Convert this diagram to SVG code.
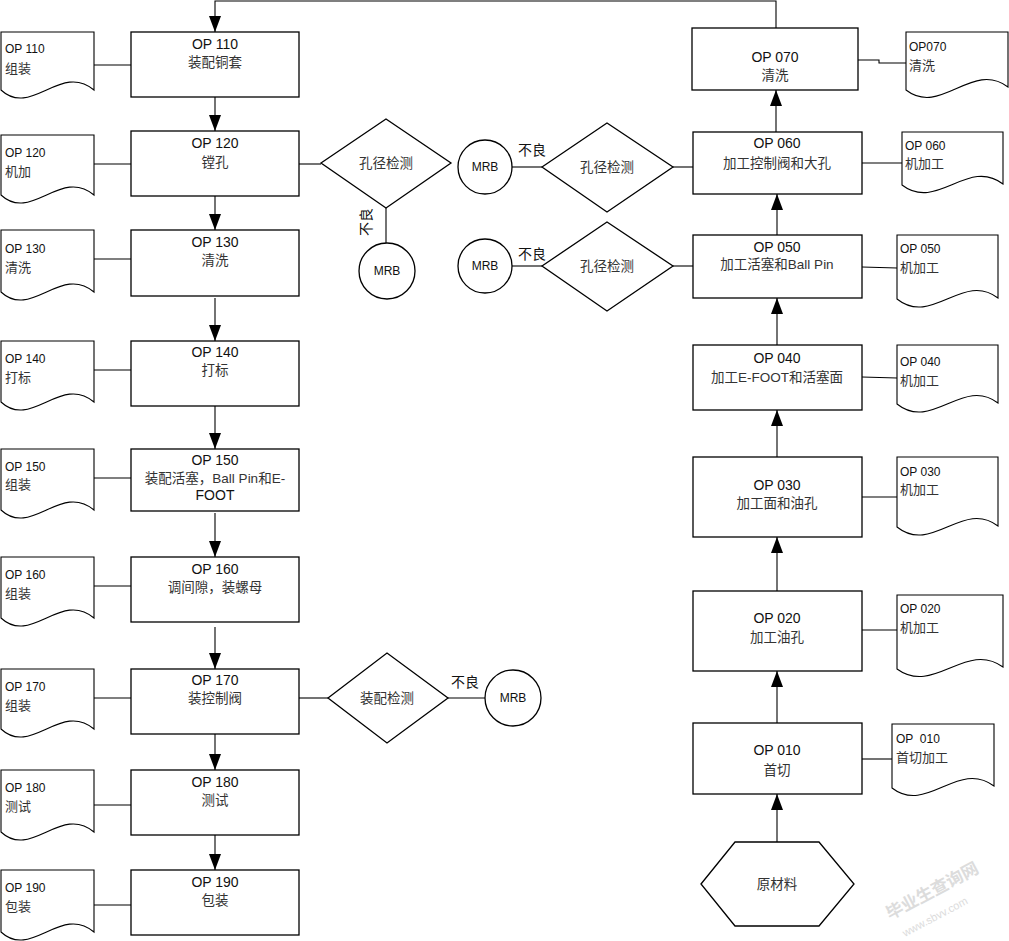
<svg xmlns="http://www.w3.org/2000/svg" width="1009" height="941" viewBox="0 0 1009 941">
<style>
.box{fill:#fff;stroke:#000;stroke-width:1.3}
.doc{fill:#fff;stroke:#000;stroke-width:1.1}
.line{fill:none;stroke:#000;stroke-width:1.1}
.op{font-family:"Liberation Sans","Noto Sans CJK SC",sans-serif;font-size:14px;fill:#111;text-anchor:middle}
.cn{font-family:"Liberation Sans","Noto Sans CJK SC",sans-serif;font-size:13.5px;fill:#333;text-anchor:middle}
.dop{font-family:"Liberation Sans","Noto Sans CJK SC",sans-serif;font-size:12px;fill:#111}
.dcn{font-family:"Liberation Sans","Noto Sans CJK SC",sans-serif;font-size:13px;fill:#333}
.mrb{font-family:"Liberation Sans",sans-serif;font-size:12px;fill:#111;text-anchor:middle}
.bl{font-family:"Liberation Sans","Noto Sans CJK SC",sans-serif;font-size:14px;fill:#111;text-anchor:middle}
.wm{font-family:"Liberation Sans","Noto Sans CJK SC",sans-serif;fill:#dcdcdc}
</style>
<defs>
<marker id="arr" markerUnits="userSpaceOnUse" markerWidth="16" markerHeight="12" refX="16" refY="6" orient="auto">
<path d="M0,0 L16,6 L0,12 Z" fill="#000"/>
</marker>
</defs>

<g id="connectors">
<path class="line" d="M776,28 V1 H215 V32" marker-end="url(#arr)"/>
<line class="line" x1="215" y1="97" x2="215" y2="131" marker-end="url(#arr)"/>
<line class="line" x1="215" y1="196" x2="215" y2="230" marker-end="url(#arr)"/>
<line class="line" x1="215" y1="298" x2="215" y2="341" marker-end="url(#arr)"/>
<line class="line" x1="215" y1="406" x2="215" y2="449" marker-end="url(#arr)"/>
<line class="line" x1="215" y1="513" x2="215" y2="557" marker-end="url(#arr)"/>
<line class="line" x1="215" y1="627" x2="215" y2="669" marker-end="url(#arr)"/>
<line class="line" x1="215" y1="734" x2="215" y2="770" marker-end="url(#arr)"/>
<line class="line" x1="215" y1="835" x2="215" y2="870" marker-end="url(#arr)"/>
<line class="line" x1="777" y1="842" x2="777" y2="794" marker-end="url(#arr)"/>
<line class="line" x1="777" y1="723" x2="777" y2="671" marker-end="url(#arr)"/>
<line class="line" x1="777" y1="591" x2="777" y2="537" marker-end="url(#arr)"/>
<line class="line" x1="777" y1="457" x2="777" y2="410" marker-end="url(#arr)"/>
<line class="line" x1="777" y1="345" x2="777" y2="298" marker-end="url(#arr)"/>
<line class="line" x1="777" y1="235" x2="777" y2="194" marker-end="url(#arr)"/>
<line class="line" x1="776" y1="132" x2="776" y2="90" marker-end="url(#arr)"/>
<line class="line" x1="94" y1="65" x2="131" y2="65"/>
<line class="line" x1="94" y1="164" x2="131" y2="164"/>
<line class="line" x1="94" y1="259" x2="131" y2="259"/>
<line class="line" x1="94" y1="370" x2="131" y2="370"/>
<line class="line" x1="94" y1="478" x2="131" y2="478"/>
<line class="line" x1="94" y1="586" x2="131" y2="586"/>
<line class="line" x1="94" y1="698" x2="131" y2="698"/>
<line class="line" x1="94" y1="805" x2="131" y2="805"/>
<line class="line" x1="94" y1="905" x2="131" y2="905"/>
<path class="line" d="M858,60 H879 V63 H906"/>
<line class="line" x1="862" y1="163" x2="902" y2="163"/>
<line class="line" x1="862" y1="267" x2="897" y2="268"/>
<line class="line" x1="862" y1="377" x2="897" y2="378"/>
<line class="line" x1="862" y1="497" x2="897" y2="497"/>
<line class="line" x1="862" y1="630" x2="897" y2="630"/>
<line class="line" x1="862" y1="759" x2="892" y2="759"/>
<line class="line" x1="299" y1="164" x2="321" y2="164"/>
<line class="line" x1="386" y1="208" x2="386" y2="243"/>
<line class="line" x1="673" y1="167" x2="693" y2="167"/>
<line class="line" x1="512" y1="167" x2="542" y2="167"/>
<line class="line" x1="673" y1="266" x2="693" y2="266"/>
<line class="line" x1="512" y1="266" x2="542" y2="266"/>
<line class="line" x1="299" y1="698" x2="328" y2="698"/>
<line class="line" x1="448" y1="698" x2="485" y2="698"/>
<text class="bl" x="532" y="155">不良</text>
<text class="bl" x="532" y="259">不良</text>
<text class="bl" x="465" y="687">不良</text>
<text class="bl" transform="translate(371,222) rotate(-90)" x="0" y="0">不良</text>
</g>

<g id="op110"><rect class="box" x="131" y="32" width="168" height="65"/><text class="op" x="215" y="49">OP 110</text><text class="cn" x="215" y="67">装配铜套</text></g>
<g id="op120"><rect class="box" x="131" y="131" width="168" height="65"/><text class="op" x="215" y="148">OP 120</text><text class="cn" x="215" y="167">镗孔</text></g>
<g id="op130"><rect class="box" x="131" y="230" width="168" height="66"/><text class="op" x="215" y="247">OP 130</text><text class="cn" x="215" y="265">清洗</text></g>
<g id="op140"><rect class="box" x="131" y="341" width="168" height="65"/><text class="op" x="215" y="357">OP 140</text><text class="cn" x="215" y="375">打标</text></g>
<g id="op150"><rect class="box" x="131" y="449" width="168" height="62"/><text class="op" x="215" y="465">OP 150</text><text class="cn" x="215" y="483">装配活塞，Ball Pin和E-</text><text class="op" x="215" y="500">FOOT</text></g>
<g id="op160"><rect class="box" x="131" y="557" width="168" height="65"/><text class="op" x="215" y="574">OP 160</text><text class="cn" x="215" y="592">调间隙，装螺母</text></g>
<g id="op170"><rect class="box" x="131" y="669" width="168" height="65"/><text class="op" x="215" y="685">OP 170</text><text class="cn" x="215" y="703">装控制阀</text></g>
<g id="op180"><rect class="box" x="131" y="770" width="168" height="65"/><text class="op" x="215" y="787">OP 180</text><text class="cn" x="215" y="805">测试</text></g>
<g id="op190"><rect class="box" x="131" y="870" width="168" height="65"/><text class="op" x="215" y="887">OP 190</text><text class="cn" x="215" y="905">包装</text></g>

<g id="doc110"><path class="doc" d="M1,32 H94 V90 C61,62 31,118 1,90 Z"/><text class="dop" x="5" y="53">OP 110</text><text class="dcn" x="5" y="73">组装</text></g>
<g id="doc120"><path class="doc" d="M1,135 H94 V195 C61,167 31,223 1,195 Z"/><text class="dop" x="5" y="157">OP 120</text><text class="dcn" x="5" y="176">机加</text></g>
<g id="doc130"><path class="doc" d="M1,230 H94 V292 C61,264 31,320 1,292 Z"/><text class="dop" x="5" y="253">OP 130</text><text class="dcn" x="5" y="272">清洗</text></g>
<g id="doc140"><path class="doc" d="M1,341 H94 V402 C61,374 31,430 1,402 Z"/><text class="dop" x="5" y="363">OP 140</text><text class="dcn" x="5" y="382">打标</text></g>
<g id="doc150"><path class="doc" d="M1,449 H94 V510 C61,482 31,538 1,510 Z"/><text class="dop" x="5" y="471">OP 150</text><text class="dcn" x="5" y="489">组装</text></g>
<g id="doc160"><path class="doc" d="M1,557 H94 V618 C61,590 31,646 1,618 Z"/><text class="dop" x="5" y="579">OP 160</text><text class="dcn" x="5" y="598">组装</text></g>
<g id="doc170"><path class="doc" d="M1,669 H94 V729 C61,701 31,757 1,729 Z"/><text class="dop" x="5" y="691">OP 170</text><text class="dcn" x="5" y="710">组装</text></g>
<g id="doc180"><path class="doc" d="M1,770 H94 V832 C61,804 31,860 1,832 Z"/><text class="dop" x="5" y="792">OP 180</text><text class="dcn" x="5" y="811">测试</text></g>
<g id="doc190"><path class="doc" d="M1,870 H94 V932 C61,904 31,960 1,932 Z"/><text class="dop" x="5" y="892">OP 190</text><text class="dcn" x="5" y="911">包装</text></g>

<g id="op070"><rect class="box" x="692" y="28" width="166" height="62"/><text class="op" x="775" y="62">OP 070</text><text class="cn" x="775" y="80">清洗</text></g>
<g id="op060"><rect class="box" x="693" y="132" width="169" height="62"/><text class="op" x="777" y="148">OP 060</text><text class="cn" x="777" y="168">加工控制阀和大孔</text></g>
<g id="op050"><rect class="box" x="693" y="235" width="169" height="63"/><text class="op" x="777" y="252">OP 050</text><text class="cn" x="777" y="269">加工活塞和Ball Pin</text></g>
<g id="op040"><rect class="box" x="693" y="345" width="169" height="65"/><text class="op" x="777" y="363">OP 040</text><text class="cn" x="777" y="382">加工E-FOOT和活塞面</text></g>
<g id="op030"><rect class="box" x="693" y="457" width="169" height="80"/><text class="op" x="777" y="490">OP 030</text><text class="cn" x="777" y="508">加工面和油孔</text></g>
<g id="op020"><rect class="box" x="693" y="591" width="169" height="80"/><text class="op" x="777" y="623">OP 020</text><text class="cn" x="777" y="642">加工油孔</text></g>
<g id="op010"><rect class="box" x="693" y="723" width="169" height="71"/><text class="op" x="777" y="755">OP 010</text><text class="cn" x="777" y="775">首切</text></g>
<g id="raw"><path class="box" d="M701,884 L735,842 H819 L854,884 L819,926 H735 Z"/><text class="cn" x="777" y="889">原材料</text></g>

<g id="doc070"><path class="doc" d="M906,32 H1008 V87 C972,60 941,117 906,90 Z"/><text class="dop" x="909" y="51">OP070</text><text class="dcn" x="909" y="70">清洗</text></g>
<g id="doc060"><path class="doc" d="M902,132 H1003 V184 C968,157 937,212 902,185 Z"/><text class="dop" x="905" y="150">OP 060</text><text class="dcn" x="905" y="168">机加工</text></g>
<g id="doc050"><path class="doc" d="M897,235 H998 V298 C963,271 932,327 897,299 Z"/><text class="dop" x="900" y="253">OP 050</text><text class="dcn" x="900" y="272">机加工</text></g>
<g id="doc040"><path class="doc" d="M897,345 H998 V403 C963,376 932,432 897,404 Z"/><text class="dop" x="900" y="366">OP 040</text><text class="dcn" x="900" y="385">机加工</text></g>
<g id="doc030"><path class="doc" d="M897,457 H998 V526 C963,499 932,555 897,527 Z"/><text class="dop" x="900" y="476">OP 030</text><text class="dcn" x="900" y="494">机加工</text></g>
<g id="doc020"><path class="doc" d="M897,595 H1003 V667 C966,640 934,696 897,669 Z"/><text class="dop" x="900" y="613">OP 020</text><text class="dcn" x="900" y="632">机加工</text></g>
<g id="doc010"><path class="doc" d="M892,724 H994 V786 C958,759 927,815 892,788 Z"/><text class="dop" x="896" y="743" xml:space="preserve">OP  010</text><text class="dcn" x="896" y="762">首切加工</text></g>

<g id="chk120"><path class="box" d="M321,163 L386,119 L451,163 L386,208 Z"/><text class="cn" x="386" y="168">孔径检测</text></g>
<g id="mrb120"><circle class="box" cx="387" cy="271" r="28"/><text class="mrb" x="387" y="275">MRB</text></g>
<g id="chk060"><path class="box" d="M542,167 L607,123 L673,167 L607,212 Z"/><text class="cn" x="607" y="172">孔径检测</text></g>
<g id="mrb060"><circle class="box" cx="485" cy="167" r="27"/><text class="mrb" x="485" y="171">MRB</text></g>
<g id="chk050"><path class="box" d="M542,266 L607,222 L673,266 L607,311 Z"/><text class="cn" x="607" y="271">孔径检测</text></g>
<g id="mrb050"><circle class="box" cx="485" cy="266" r="27"/><text class="mrb" x="485" y="270">MRB</text></g>
<g id="chk170"><path class="box" d="M328,698 L387,653 L448,698 L387,743 Z"/><text class="cn" x="387" y="703">装配检测</text></g>
<g id="mrb170"><circle class="box" cx="513" cy="698" r="28"/><text class="mrb" x="513" y="702">MRB</text></g>

<g id="watermark">
<text class="wm" font-size="17" font-weight="bold" transform="translate(890,920) rotate(-28)">毕业生查询网</text>
<text class="wm" font-size="11" transform="translate(905,937) rotate(-28)">www.sbvv.com</text>
</g>
</svg>
